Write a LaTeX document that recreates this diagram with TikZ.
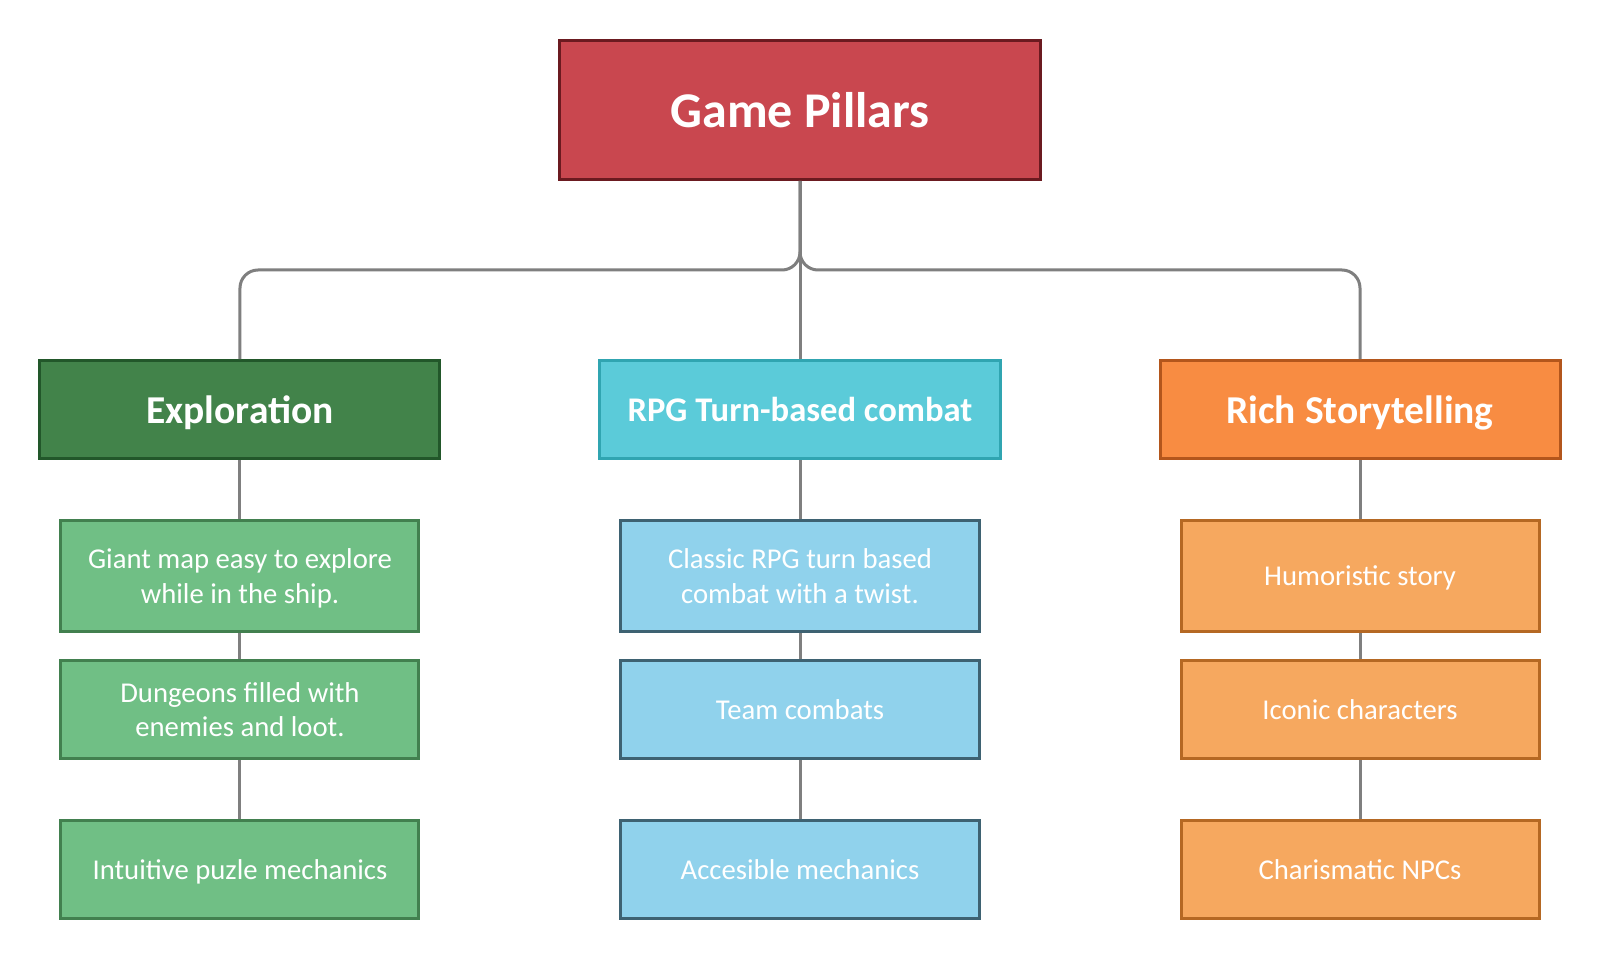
\documentclass[tikz,border=0pt]{standalone}
\usepackage{fontspec}
\setmainfont{Carlito}
\usepackage{tikz}
\usetikzlibrary{positioning}

\definecolor{gamered}{HTML}{C9474F}
\definecolor{gamedark}{HTML}{6B1A20}
\definecolor{exploredark}{HTML}{42834A}
\definecolor{exploreline}{HTML}{22572A}
\definecolor{explorelight}{HTML}{70BF85}
\definecolor{exploreedge}{HTML}{42804F}
\definecolor{combatdark}{HTML}{5BCBD9}
\definecolor{combatline}{HTML}{30A5B1}
\definecolor{combatlight}{HTML}{90D2EC}
\definecolor{combatedge}{HTML}{3E6272}
\definecolor{storydark}{HTML}{F88C42}
\definecolor{storyline}{HTML}{B3561C}
\definecolor{storylight}{HTML}{F6A85F}
\definecolor{storyedge}{HTML}{B56823}
\definecolor{linkgray}{HTML}{7F7F7F}

\begin{document}
\begin{tikzpicture}[
        nodes={text=white, align=center, line width=3pt, inner sep=0pt, text depth=0pt},
        root_style/.style={rectangle, draw=gamedark, fill=gamered,
          minimum width=480pt, minimum height=139pt,
          font={\fontsize{50}{56}\selectfont\bfseries}},
        head_style/.style={rectangle, minimum width=400pt, minimum height=98pt,
          font={\fontsize{39.5}{46}\selectfont\bfseries}},
        item_style/.style={rectangle, minimum width=358pt, minimum height=98pt,
          font={\fontsize{28.7}{34.5}\selectfont}},
        green_item/.style={item_style, draw=exploreedge, fill=explorelight},
        blue_item/.style={item_style, draw=combatedge, fill=combatlight},
        orange_item/.style={item_style, draw=storyedge, fill=storylight},
        link_style/.style={draw=linkgray, line width=3pt}]

      \useasboundingbox[fill=white] (-800pt,110pt) rectangle (800pt,-850pt);

      \node[root_style] (game) at (0,0) {Game Pillars};
      \coordinate (bus) at (0pt,-160pt);

      \node[head_style, draw=combatline, fill=combatdark, below=178pt of game,
        font={\fontsize{34.6}{40}\selectfont\bfseries}] (combat) {RPG Turn-based combat};
      \node[head_style, draw=exploreline, fill=exploredark, left=157pt of combat] (explore) {Exploration};
      \node[head_style, draw=storyline, fill=storydark, right=157pt of combat] (story) {Rich Storytelling};

      % exploration items
      \node[green_item, minimum height=111pt, below=59pt of explore] (explore_a) {Giant map easy to explore\\while in the ship.};
      \node[green_item, below=26pt of explore_a] (explore_b) {Dungeons filled with\\enemies and loot.};
      \node[green_item, below=59pt of explore_b] (explore_c) {Intuitive puzle mechanics};

      % combat items
      \node[blue_item, minimum height=111pt, below=59pt of combat] (combat_a) {Classic RPG turn based\\combat with a twist.};
      \node[blue_item, below=26pt of combat_a] (combat_b) {Team combats};
      \node[blue_item, below=59pt of combat_b] (combat_c) {Accesible mechanics};

      % story items
      \node[orange_item, minimum height=111pt, below=59pt of story] (story_a) {Humoristic story};
      \node[orange_item, below=26pt of story_a] (story_b) {Iconic characters};
      \node[orange_item, below=59pt of story_b] (story_c) {Charismatic NPCs};

      \draw[link_style, rounded corners=18pt] (game.south) -- (game.south |- bus) -- (explore.north |- bus) -- (explore.north);
      \draw[link_style, rounded corners=18pt] (game.south) -- (game.south |- bus) -- (story.north |- bus) -- (story.north);
      \draw[link_style] (game.south) -- (combat.north);

      \draw[link_style] (explore) -- (explore_a);
      \draw[link_style] (explore_a) -- (explore_b);
      \draw[link_style] (explore_b) -- (explore_c);
      \draw[link_style] (combat) -- (combat_a);
      \draw[link_style] (combat_a) -- (combat_b);
      \draw[link_style] (combat_b) -- (combat_c);
      \draw[link_style] (story) -- (story_a);
      \draw[link_style] (story_a) -- (story_b);
      \draw[link_style] (story_b) -- (story_c);
    \end{tikzpicture}
\end{document}
